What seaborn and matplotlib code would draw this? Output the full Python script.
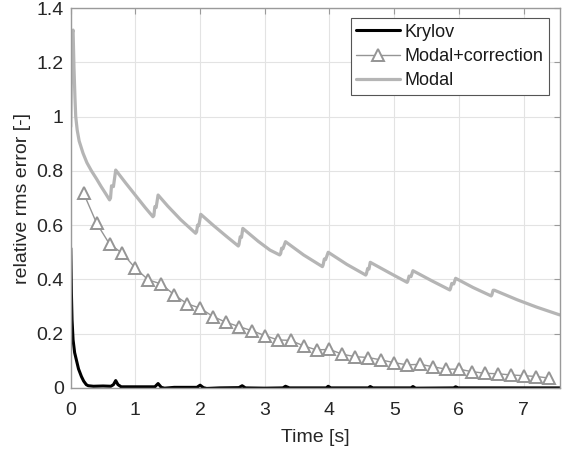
import numpy as np, pandas as pd
import matplotlib
matplotlib.use("Agg")
import matplotlib.pyplot as plt
import seaborn as sns

# values
krylov_t = [0, 0.01, 0.02, 0.036, 0.06, 0.09, 0.12, 0.165, 0.2, 0.24, 0.27, 0.35, 0.5, 0.62,
            0.66, 0.695, 0.73, 0.78, 1.0, 1.3, 1.35, 1.4, 1.45, 1.6, 1.95, 2.0, 2.05, 2.1,
            2.3, 2.6, 2.65, 2.7, 3.0, 3.28, 3.32, 3.38, 3.95, 3.98, 4.02, 4.6, 4.63, 4.67,
            5.26, 5.29, 5.33, 5.92, 5.95, 5.99, 7.56]
krylov_err = [0.515, 0.35, 0.25, 0.177, 0.13, 0.10, 0.07, 0.042, 0.025, 0.012, 0.008, 0.006,
              0.007, 0.006, 0.012, 0.027, 0.012, 0.004, 0.004, 0.004, 0.016, 0.002, -0.001,
              0.002, 0.002, 0.01, 0.001, -0.002, 0.0, 0.001, 0.008, 0.0, -0.001, 0.0, 0.006,
              0.0, 0.0, 0.006, 0.0, 0.0, 0.005, 0.0, 0.0, 0.005, -0.001, 0.0, 0.004, 0.0, 0.0]

corr_t = [0.2, 0.4, 0.6, 0.8, 1.0, 1.2, 1.4, 1.6, 1.8, 2.0, 2.2, 2.4, 2.6, 2.8, 3.0, 3.2, 3.4,
          3.6, 3.8, 4.0, 4.2, 4.4, 4.6, 4.8, 5.0, 5.2, 5.4, 5.6, 5.8, 6.0, 6.2, 6.4, 6.6, 6.8,
          7.0, 7.2, 7.4]
corr_err = [0.717, 0.607, 0.53, 0.496, 0.441, 0.398, 0.383, 0.343, 0.31, 0.294, 0.263, 0.242,
            0.226, 0.211, 0.193, 0.177, 0.175, 0.155, 0.14, 0.142, 0.124, 0.115, 0.112, 0.103,
            0.093, 0.085, 0.087, 0.078, 0.069, 0.069, 0.06, 0.054, 0.052, 0.048, 0.045, 0.042,
            0.036]

modal_t = [0.0, 0.012, 0.025, 0.036, 0.05, 0.065, 0.077, 0.1, 0.13, 0.19, 0.25, 0.32, 0.40,
           0.47, 0.54, 0.60, 0.615, 0.63, 0.66, 0.695, 0.85, 1.0, 1.15, 1.27, 1.285, 1.30,
           1.32, 1.35, 1.5, 1.7, 1.93, 1.945, 1.96, 1.98, 2.01, 2.2, 2.4, 2.59, 2.60, 2.62,
           2.64, 2.66, 2.9, 3.08, 3.23, 3.245, 3.26, 3.28, 3.32, 3.6, 3.89, 3.9, 3.92, 3.94,
           3.98, 4.27, 4.56, 4.57, 4.59, 4.61, 4.63, 4.92, 5.2, 5.21, 5.23, 5.26, 5.29, 5.58,
           5.86, 5.87, 5.89, 5.92, 5.95, 6.22, 6.50, 6.51, 6.53, 6.55, 6.9, 7.2, 7.56]
modal_err = [0.963, 1.20, 1.31, 1.319, 1.18, 1.07, 1.0, 0.95, 0.91, 0.865, 0.83, 0.80, 0.77,
             0.742, 0.716, 0.693, 0.70, 0.745, 0.742, 0.803, 0.755, 0.71, 0.665, 0.631, 0.635,
             0.668, 0.665, 0.711, 0.67, 0.62, 0.570, 0.575, 0.60, 0.598, 0.64, 0.60, 0.56,
             0.523, 0.528, 0.557, 0.555, 0.588, 0.54, 0.508, 0.49, 0.495, 0.515, 0.513, 0.539,
             0.49, 0.447, 0.452, 0.475, 0.473, 0.50, 0.455, 0.416, 0.42, 0.44, 0.438, 0.463,
             0.425, 0.389, 0.393, 0.412, 0.41, 0.432, 0.395, 0.361, 0.366, 0.385, 0.383, 0.404,
             0.37, 0.339, 0.343, 0.36, 0.36, 0.325, 0.298, 0.269]

x_ticks = [0, 1, 2, 3, 4, 5, 6, 7]
y_ticks = [0, 0.2, 0.4, 0.6, 0.8, 1.0, 1.2, 1.4]
y_labels = ["0", "0.2", "0.4", "0.6", "0.8", "1", "1.2", "1.4"]

sns.set_style("whitegrid")
plt.rcParams["font.family"] = ["Liberation Sans", "DejaVu Sans"]
plt.rcParams["font.size"] = 14

fig = plt.figure(figsize=(5.66, 4.5), dpi=100)
ax = fig.add_axes([0.125, 0.138, 0.864, 0.844])

sns.lineplot(x=krylov_t, y=krylov_err, ax=ax, color="black", lw=2.2,
             label="Krylov", sort=False)
sns.lineplot(x=corr_t, y=corr_err, ax=ax, color="#959595", lw=1.0, marker="^",
             markersize=8, markerfacecolor="white", markeredgecolor="#959595",
             markeredgewidth=1.4, label="Modal+correction", sort=False)
sns.lineplot(x=modal_t, y=modal_err, ax=ax, color="#b5b5b5", lw=2.3,
             label="Modal", sort=False)

ax.set_xlim(0, 7.56)
ax.set_ylim(0, 1.4)
ax.set_xticks(x_ticks)
ax.set_yticks(y_ticks)
ax.set_yticklabels(y_labels)
ax.set_xlabel("Time [s]", color="#262626", labelpad=7)
ax.set_ylabel("relative rms error [-]", color="#262626", labelpad=4)

ax.grid(True, color="#e3e3e3", lw=0.8)
for s in ax.spines.values():
    s.set_visible(True)
    s.set_color("#9a9a9a")
    s.set_linewidth(1.0)
ax.tick_params(direction="in", length=4, width=0.8, color="#9a9a9a",
               top=True, right=True, labelcolor="#262626", labelsize=14, pad=5)
ax.tick_params(axis="x", pad=10)

leg = ax.legend(loc="upper right", bbox_to_anchor=(0.978, 0.973), borderaxespad=0,
                frameon=True, fancybox=False, framealpha=1, edgecolor="#555555",
                handlelength=2.45, fontsize=13, borderpad=0.3, labelspacing=0.4,
                handletextpad=0.25)
leg.get_frame().set_linewidth(0.8)
for t in leg.get_texts():
    t.set_color("#1a1a1a")

fig.savefig("out.png", dpi=100)
